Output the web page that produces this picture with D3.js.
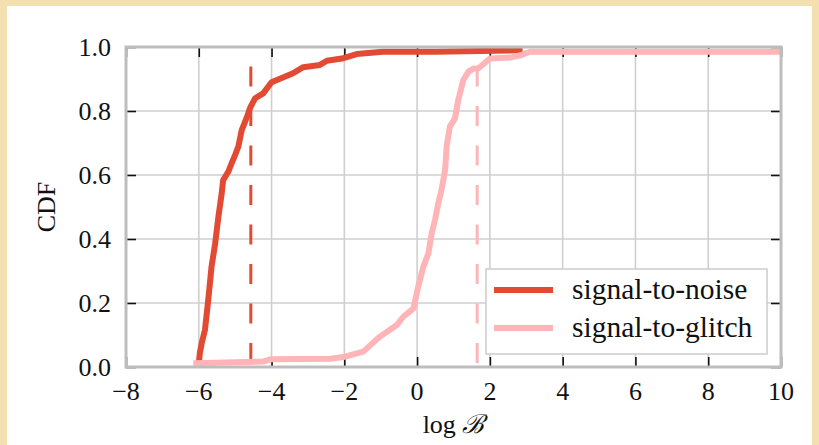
<!DOCTYPE html>
<html>
<head>
<meta charset="utf-8">
<script src="https://cdn.jsdelivr.net/npm/d3@7"></script>
<style>
  body { margin: 0; background: #fff; }
  svg { display: block; }
  text { font-family: "Liberation Serif", "DejaVu Serif", serif; fill: #111; }
</style>
</head>
<body>
<div id="chart"></div>
<script>
// signal-to-noise CDF
var snrX = [-6.01, -5.97, -5.92, -5.83, -5.74, -5.65, -5.55, -5.46, -5.37, -5.33, -5.19, -5.10, -5.00, -4.91,
  -4.82, -4.68, -4.59, -4.45, -4.23, -4.00, -3.41, -3.13, -2.67, -2.48, -2.07, -1.66, -0.94, 0.5, 2.9];
var snrY = [0.0, 0.044, 0.074, 0.116, 0.209, 0.313, 0.386, 0.47, 0.543, 0.584, 0.61, 0.636, 0.663, 0.69,
  0.74, 0.78, 0.81, 0.84, 0.855, 0.89, 0.918, 0.937, 0.944, 0.957, 0.964, 0.978, 0.985, 0.985, 0.99];

// signal-to-glitch CDF
var sgX = [-6.15, -4.23, -4.04, -2.39, -2.03, -1.48, -1.02, -0.56, -0.38, -0.10, 0.03, 0.17, 0.31, 0.40, 0.49,
  0.58, 0.67, 0.77, 0.81, 0.90, 1.04, 1.13, 1.27, 1.41, 1.55, 1.68, 2.0, 2.55, 2.87, 3.10, 10];
var sgY = [0.012, 0.017, 0.024, 0.026, 0.031, 0.048, 0.095, 0.131, 0.157, 0.183, 0.251, 0.313, 0.355, 0.417, 0.459,
  0.511, 0.553, 0.616, 0.688, 0.751, 0.777, 0.834, 0.897, 0.923, 0.933, 0.933, 0.964, 0.967, 0.975, 0.985, 0.985];

// medians (dashed lines)
var medians = [-4.57, 1.65];

var seriesNames = ['signal-to-noise', 'signal-to-glitch'];
var xTicks = [-8, -6, -4, -2, 0, 2, 4, 6, 8, 10];
var yTicks = [0.0, 0.2, 0.4, 0.6, 0.8, 1.0];

var colors = ['#e24a33', '#ffb5b8'];

var W = 819, H = 445;
var m = { left: 126, right: 38, top: 47, bottom: 78 };

var svg = d3.select('#chart').append('svg')
  .attr('width', W).attr('height', H);

// beige frame
svg.append('rect').attr('x', 0).attr('y', 0).attr('width', W).attr('height', H).attr('fill', '#f4dfb0');
svg.append('rect').attr('x', 7).attr('y', 6).attr('width', W - 14).attr('height', H - 6).attr('fill', '#fff');

var x = d3.scaleLinear().domain([-8, 10]).range([m.left, W - m.right]);
var y = d3.scaleLinear().domain([0, 1]).range([H - m.bottom, m.top]);

svg.append('clipPath').attr('id', 'clip')
  .append('rect')
  .attr('x', x(-8)).attr('y', y(1))
  .attr('width', x(10) - x(-8)).attr('height', y(0) - y(1));

// grid
var grid = svg.append('g').attr('stroke', '#cfcfcf').attr('stroke-width', 1.6);
grid.selectAll('.gx').data(xTicks).enter().append('line')
  .attr('x1', function (d) { return x(d); }).attr('x2', function (d) { return x(d); })
  .attr('y1', y(0)).attr('y2', y(1));
grid.selectAll('.gy').data(yTicks).enter().append('line')
  .attr('y1', function (d) { return y(d); }).attr('y2', function (d) { return y(d); })
  .attr('x1', x(-8)).attr('x2', x(10));

// inward ticks on all sides
var tickLen = 10;
var axes = svg.append('g');
axes.append('g').attr('transform', 'translate(0,' + y(0) + ')')
  .call(d3.axisTop(x).tickValues(xTicks).tickSize(tickLen).tickFormat(''));
axes.append('g').attr('transform', 'translate(0,' + y(1) + ')')
  .call(d3.axisBottom(x).tickValues(xTicks).tickSize(tickLen).tickFormat(''));
axes.append('g').attr('transform', 'translate(' + x(-8) + ',0)')
  .call(d3.axisRight(y).tickValues(yTicks).tickSize(tickLen).tickFormat(''));
axes.append('g').attr('transform', 'translate(' + x(10) + ',0)')
  .call(d3.axisLeft(y).tickValues(yTicks).tickSize(tickLen).tickFormat(''));
axes.selectAll('.domain').remove();
axes.selectAll('.tick line').attr('stroke', '#111').attr('stroke-width', 1.6);

// curves
var line = d3.line()
  .x(function (d) { return x(d[0]); })
  .y(function (d) { return y(d[1]); });

var plot = svg.append('g').attr('clip-path', 'url(#clip)');

var series = [d3.zip(snrX, snrY), d3.zip(sgX, sgY)];

medians.forEach(function (v, i) {
  plot.append('line')
    .attr('x1', x(v)).attr('x2', x(v))
    .attr('y1', y(1)).attr('y2', y(0))
    .attr('stroke', colors[i]).attr('stroke-width', 3)
    .attr('stroke-dasharray', '20,19.5')
    .attr('stroke-dashoffset', 20);
});

series.forEach(function (s, i) {
  plot.append('path')
    .datum(s)
    .attr('d', line)
    .attr('fill', 'none')
    .attr('stroke', colors[i])
    .attr('stroke-width', 6)
    .attr('stroke-linejoin', 'round');
});

// spines
svg.append('rect')
  .attr('x', x(-8)).attr('y', y(1))
  .attr('width', x(10) - x(-8)).attr('height', y(0) - y(1))
  .attr('fill', 'none').attr('stroke', '#bdbdbd').attr('stroke-width', 3);

// tick labels
var fs = 26;
svg.selectAll('.xl').data(xTicks).enter().append('text')
  .attr('x', function (d) { return x(d); })
  .attr('y', 400)
  .attr('text-anchor', 'middle')
  .style('font-size', fs + 'px')
  .text(function (d) { return d < 0 ? '\u2212' + Math.abs(d) : d; });

svg.selectAll('.yl').data(yTicks).enter().append('text')
  .attr('x', 111)
  .attr('y', function (d) { return y(d); })
  .attr('dy', '0.33em')
  .attr('text-anchor', 'end')
  .style('font-size', fs + 'px')
  .text(function (d) { return d.toFixed(1); });

// axis labels
var xl = svg.append('text')
  .attr('x', (x(-8) + x(10)) / 2).attr('y', 433)
  .attr('text-anchor', 'middle')
  .style('font-size', fs + 'px');
xl.append('tspan').text('log ');
xl.append('tspan').style('font-family', '"DejaVu Serif", serif').style('font-style', 'italic').text('\u212C');

svg.append('text')
  .attr('transform', 'translate(55,' + ((y(0) + y(1)) / 2) + ') rotate(-90)')
  .attr('text-anchor', 'middle')
  .style('font-size', fs + 'px')
  .text('CDF');

// legend
var lg = svg.append('g');
lg.append('rect')
  .attr('x', 486).attr('y', 269).attr('width', 281).attr('height', 85)
  .attr('fill', '#fff').attr('stroke', '#cccccc').attr('stroke-width', 1.5);
seriesNames.forEach(function (name, i) {
  var cy = 290 + i * 38;
  lg.append('line')
    .attr('x1', 494).attr('x2', 553).attr('y1', cy).attr('y2', cy)
    .attr('stroke', colors[i]).attr('stroke-width', 6);
  lg.append('text')
    .attr('x', 572).attr('y', cy + 9)
    .style('font-size', '29.5px')
    .text(name);
});
</script>
</body>
</html>
